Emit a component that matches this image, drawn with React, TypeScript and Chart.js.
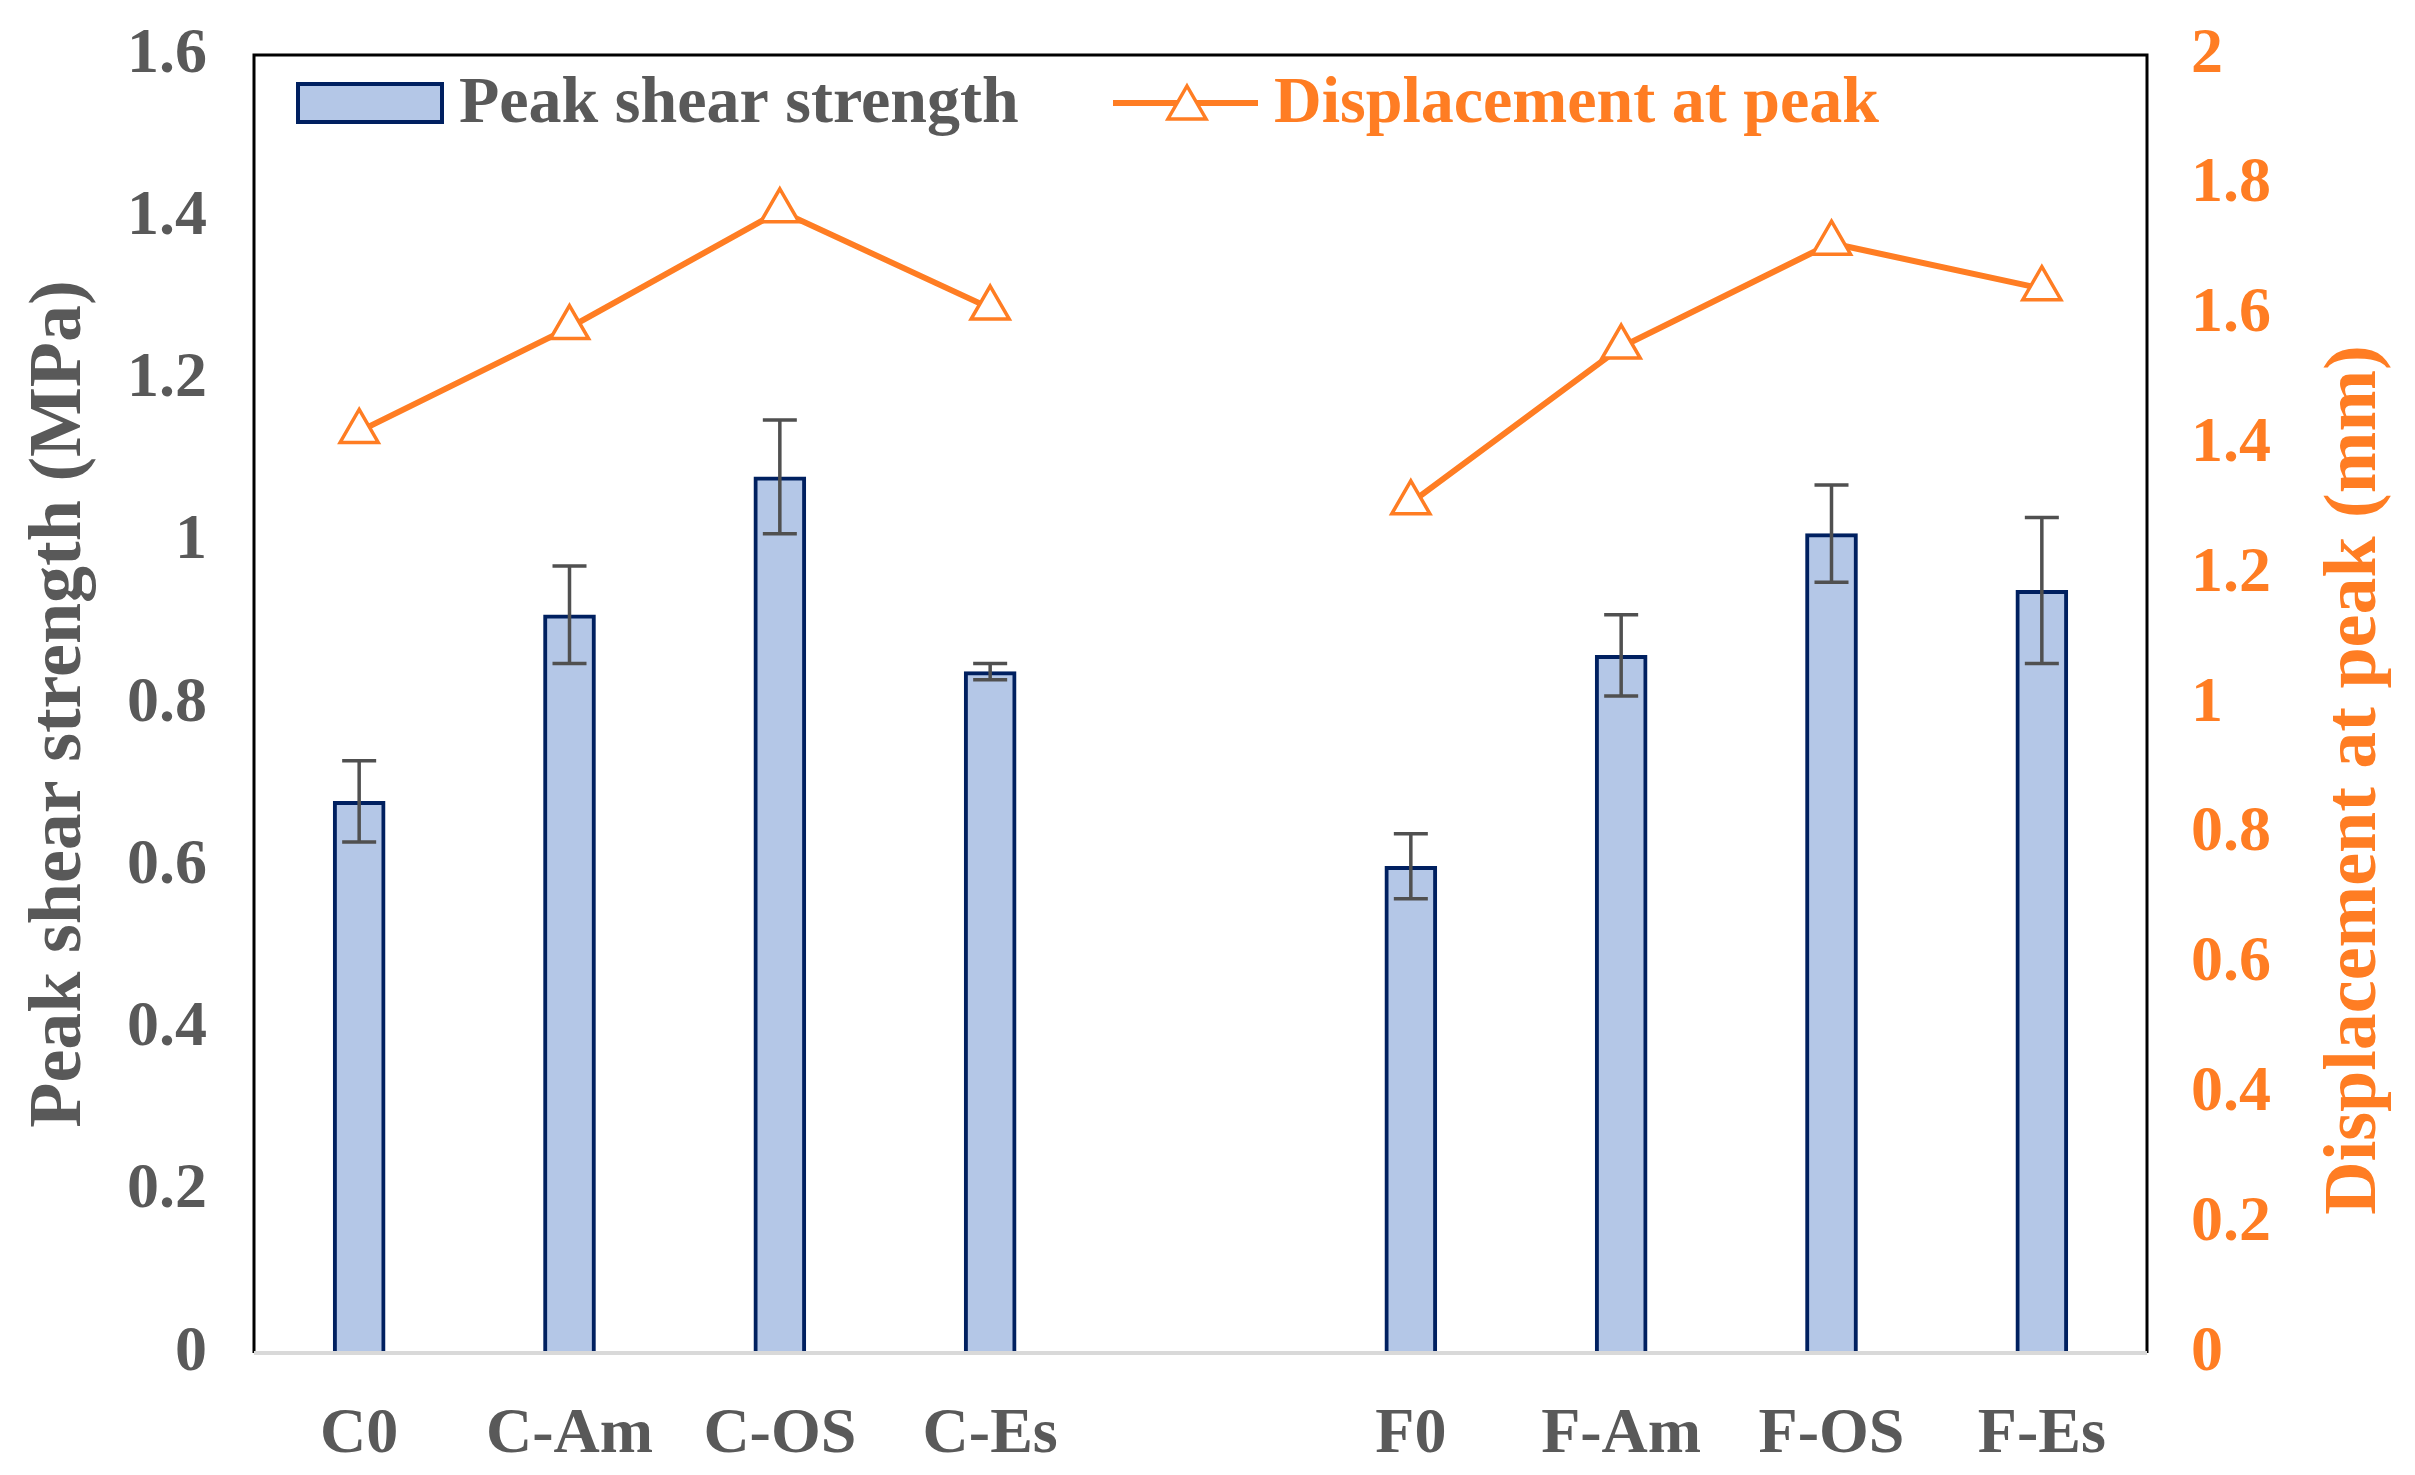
import React, { useEffect, useRef } from "react";
import { Chart, registerables } from "chart.js";
Chart.register(...registerables);

// values
const categories = ["C0", "C-Am", "C-OS", "C-Es", "", "F0", "F-Am", "F-OS", "F-Es"];
const peakShear = [0.68, 0.91, 1.08, 0.84, null, 0.6, 0.86, 1.01, 0.94];
const shearError = [0.05, 0.06, 0.07, 0.01, null, 0.04, 0.05, 0.06, 0.09];
const displacement = [1.42, 1.58, 1.76, 1.61, null, 1.31, 1.55, 1.71, 1.64];
const shearTicks = [0, 0.2, 0.4, 0.6, 0.8, 1, 1.2, 1.4, 1.6];
const dispTicks = [0, 0.2, 0.4, 0.6, 0.8, 1, 1.2, 1.4, 1.6, 1.8, 2];

const FONT = '"Times New Roman", "Liberation Serif", serif';
const GREY = "#595959";
const ORANGE = "#FF7D23";
const BAR_FILL = "#B4C7E7";
const BAR_EDGE = "#002060";

const drawTriangle = (ctx: CanvasRenderingContext2D, cx: number, cy: number, r: number) => {
  ctx.beginPath();
  ctx.moveTo(cx, cy - r);
  ctx.lineTo(cx + r * 0.866, cy + r / 2);
  ctx.lineTo(cx - r * 0.866, cy + r / 2);
  ctx.closePath();
  ctx.fill();
  ctx.stroke();
};

const decorPlugin = {
  id: "decor",
  afterDatasetsDraw(chart: any) {
    const { ctx, chartArea: a, scales } = chart;
    const x = scales.x;
    const y = scales.y;
    ctx.save();
    // error bars
    ctx.strokeStyle = "#505050";
    ctx.lineWidth = 3.5;
    peakShear.forEach((v, i) => {
      const e = shearError[i];
      if (v == null || e == null) return;
      const px = x.getPixelForValue(i);
      const top = y.getPixelForValue(v + e);
      const bot = y.getPixelForValue(v - e);
      ctx.beginPath();
      ctx.moveTo(px, top);
      ctx.lineTo(px, bot);
      ctx.moveTo(px - 17, top);
      ctx.lineTo(px + 17, top);
      ctx.moveTo(px - 17, bot);
      ctx.lineTo(px + 17, bot);
      ctx.stroke();
    });
    // plot frame
    ctx.strokeStyle = "#000";
    ctx.lineWidth = 3;
    ctx.beginPath();
    ctx.moveTo(a.left, a.bottom);
    ctx.lineTo(a.left, a.top);
    ctx.lineTo(a.right, a.top);
    ctx.lineTo(a.right, a.bottom);
    ctx.stroke();
    ctx.strokeStyle = "#D9D9D9";
    ctx.lineWidth = 4;
    ctx.beginPath();
    ctx.moveTo(a.left, a.bottom);
    ctx.lineTo(a.right, a.bottom);
    ctx.stroke();
    ctx.restore();
  },
  afterDraw(chart: any) {
    const { ctx, chartArea: a } = chart;
    ctx.save();
    // legend
    ctx.font = `bold 66px ${FONT}`;
    ctx.textBaseline = "alphabetic";
    ctx.textAlign = "left";
    ctx.fillStyle = BAR_FILL;
    ctx.strokeStyle = BAR_EDGE;
    ctx.lineWidth = 4;
    ctx.fillRect(a.left + 44, a.top + 29, 144, 38);
    ctx.strokeRect(a.left + 44, a.top + 29, 144, 38);
    ctx.fillStyle = GREY;
    ctx.fillText("Peak shear strength", a.left + 205, a.top + 67);

    ctx.strokeStyle = ORANGE;
    ctx.lineWidth = 6;
    ctx.beginPath();
    ctx.moveTo(a.left + 859, a.top + 48);
    ctx.lineTo(a.left + 1004, a.top + 48);
    ctx.stroke();
    ctx.fillStyle = "#fff";
    ctx.lineWidth = 3.5;
    drawTriangle(ctx, a.left + 933, a.top + 53, 22);
    ctx.fillStyle = ORANGE;
    ctx.fillText("Displacement at peak", a.left + 1020, a.top + 67);

    // axis titles
    ctx.font = `bold 74px ${FONT}`;
    ctx.textAlign = "center";
    ctx.textBaseline = "middle";
    const midY = (a.top + a.bottom) / 2;
    ctx.save();
    ctx.translate(61, midY);
    ctx.rotate(-Math.PI / 2);
    ctx.fillStyle = GREY;
    ctx.fillText("Peak shear strength (MPa)", 0, 0);
    ctx.restore();
    ctx.save();
    ctx.translate(chart.width - 59, midY + 76);
    ctx.rotate(-Math.PI / 2);
    ctx.fillStyle = ORANGE;
    ctx.fillText("Displacement at peak (mm)", 0, 0);
    ctx.restore();
    ctx.restore();
  },
};

const App: React.FC = () => {
  const chartRef = useRef<HTMLCanvasElement>(null);

  useEffect(() => {
    document.body.style.margin = "0";
    document.body.style.overflow = "hidden";
    if (!chartRef.current) return;
    const tickFont = { family: FONT, size: 64, weight: "bold" as const };
    // invisible tick marks give the gap between labels and frame
    const hiddenGrid = (len: number) => ({
      display: true,
      drawOnChartArea: false,
      drawTicks: true,
      tickLength: len,
      color: "rgba(0,0,0,0)",
    });

    const myChart = new Chart(chartRef.current, {
      type: "bar",
      data: {
        labels: categories,
        datasets: [
          {
            type: "line",
            label: "Displacement at peak",
            data: displacement,
            yAxisID: "y1",
            borderColor: ORANGE,
            borderWidth: 6,
            pointStyle: "triangle",
            pointRadius: 22,
            pointBorderWidth: 3.5,
            pointBackgroundColor: "#fff",
            pointBorderColor: ORANGE,
            spanGaps: false,
            tension: 0,
            order: 0,
          },
          {
            type: "bar",
            label: "Peak shear strength",
            data: peakShear,
            yAxisID: "y",
            backgroundColor: BAR_FILL,
            borderColor: BAR_EDGE,
            borderWidth: 4,
            barThickness: 52,
            order: 1,
          },
        ],
      } as any,
      options: {
        responsive: false,
        devicePixelRatio: 1,
        animation: false,
        layout: { padding: { top: 55 } },
        plugins: {
          legend: { display: false },
          tooltip: { enabled: false },
        },
        scales: {
          x: {
            grid: { display: false },
            border: { display: false },
            ticks: {
              color: GREY,
              font: tickFont,
              padding: 36,
              autoSkip: false,
              maxRotation: 0,
            },
            afterFit: (s: any) => {
              s.height = 122;
            },
          },
          y: {
            position: "left",
            min: 0,
            max: 1.6,
            grid: hiddenGrid(47),
            border: { display: false },
            ticks: { color: GREY, font: tickFont, padding: 0, callback: (v: any) => String(v) },
            afterBuildTicks: (s: any) => {
              s.ticks = shearTicks.map((value) => ({ value }));
            },
            afterFit: (s: any) => {
              s.width = 254;
            },
          },
          y1: {
            position: "right",
            min: 0,
            max: 2,
            grid: hiddenGrid(44),
            border: { display: false },
            ticks: { color: ORANGE, font: tickFont, padding: 0, callback: (v: any) => String(v) },
            afterBuildTicks: (s: any) => {
              s.ticks = dispTicks.map((value) => ({ value }));
            },
            afterFit: (s: any) => {
              s.width = 268;
            },
          },
        },
      },
      plugins: [decorPlugin],
    });

    return () => {
      myChart.destroy();
    };
  }, []);

  return <canvas ref={chartRef} width={2415} height={1475} style={{ display: "block" }}></canvas>;
};

export default App;
